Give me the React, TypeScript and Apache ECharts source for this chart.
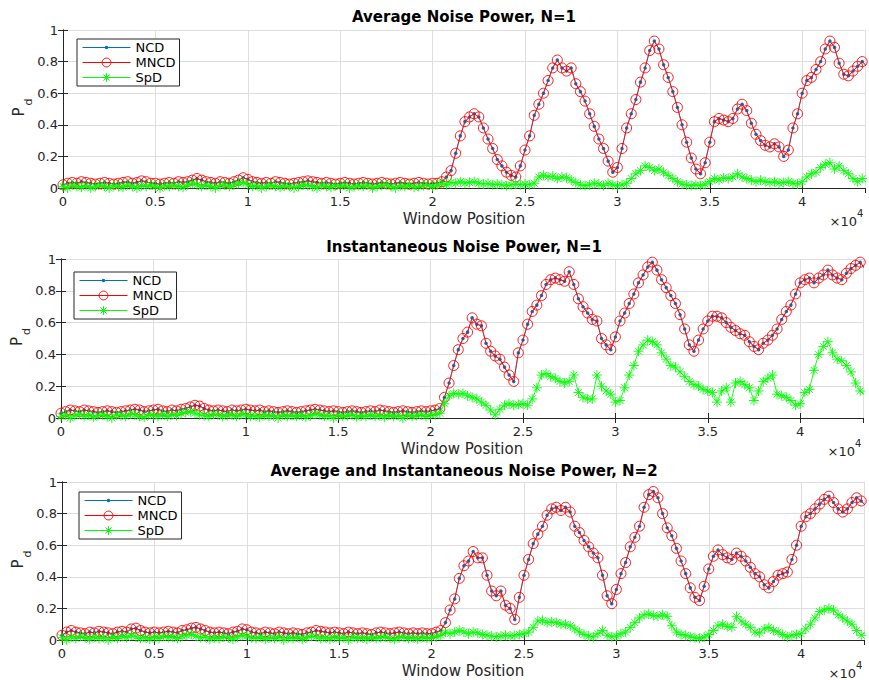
import React, { useEffect, useRef } from 'react';
import * as echarts from 'echarts';

// ---------- data ----------
const STEP = 250; // window-position spacing of the samples
const X_MAX = 43400;
const xTickLabels = ['0', '0.5', '1', '1.5', '2', '2.5', '3', '3.5', '4'];
const yTickLabels = ['0', '0.2', '0.4', '0.6', '0.8', '1'];
const titles = [
  'Average Noise Power, N=1',
  'Instantaneous Noise Power, N=1',
  'Average and Instantaneous Noise Power, N=2',
];
const seriesNames = ['NCD', 'MNCD', 'SpD'];

// Panel 1 (Average Noise Power, N=1): window 0..20000
const mncd1Quiet = [
  0.02, 0.03, 0.035, 0.03, 0.04, 0.035, 0.03, 0.025, 0.03, 0.035,
  0.03, 0.025, 0.03, 0.035, 0.04, 0.03, 0.035, 0.045, 0.04, 0.03,
  0.03, 0.025, 0.03, 0.035, 0.03, 0.04, 0.035, 0.04, 0.05, 0.06,
  0.05, 0.04, 0.035, 0.03, 0.04, 0.035, 0.03, 0.04, 0.05, 0.065,
  0.055, 0.04, 0.035, 0.03, 0.035, 0.03, 0.04, 0.035, 0.03, 0.025,
  0.03, 0.035, 0.04, 0.045, 0.04, 0.035, 0.03, 0.035, 0.03, 0.025,
  0.03, 0.035, 0.03, 0.025, 0.03, 0.035, 0.03, 0.025, 0.03, 0.035,
  0.03, 0.025, 0.03, 0.035, 0.03, 0.025, 0.03, 0.035, 0.03, 0.025,
  0.03,
];
// window 20250..43500
const mncd1Active = [
  0.03, 0.04, 0.07, 0.11, 0.22, 0.33, 0.42, 0.45, 0.47, 0.45,
  0.38, 0.31, 0.25, 0.18, 0.14, 0.10, 0.08, 0.07, 0.14, 0.24,
  0.33, 0.46, 0.53, 0.60, 0.68, 0.76, 0.81, 0.76, 0.74, 0.76,
  0.66, 0.61, 0.55, 0.47, 0.39, 0.31, 0.25, 0.17, 0.10, 0.13,
  0.25, 0.38, 0.47, 0.56, 0.67, 0.76, 0.87, 0.93, 0.88, 0.78,
  0.70, 0.61, 0.51, 0.40, 0.29, 0.19, 0.12, 0.09, 0.16, 0.29,
  0.42, 0.44, 0.43, 0.42, 0.44, 0.50, 0.53, 0.49, 0.41, 0.34,
  0.30, 0.27, 0.26, 0.28, 0.26, 0.20, 0.24, 0.38, 0.47, 0.60,
  0.68, 0.70, 0.75, 0.80, 0.88, 0.93, 0.89, 0.79, 0.72, 0.71,
  0.74, 0.77, 0.80, 0.77,
];
const spd1Quiet = [
  0.01, 0.0, 0.02, 0.01, 0.005, 0.015, 0.0, 0.01, 0.02, 0.01,
  0.0, 0.015, 0.01, 0.005, 0.02, 0.01, 0.0, 0.015, 0.01, 0.02,
  0.01, 0.0, 0.015, 0.01, 0.02, 0.01, 0.005, 0.02, 0.03, 0.02,
  0.01, 0.02, 0.01, 0.0, 0.015, 0.02, 0.01, 0.02, 0.03, 0.035,
  0.02, 0.01, 0.015, 0.0, 0.01, 0.02, 0.01, 0.005, 0.015, 0.01,
  0.0, 0.01, 0.02, 0.015, 0.01, 0.0, 0.02, 0.01, 0.005, 0.015,
  0.01, 0.02, 0.0, 0.01, 0.015, 0.01, 0.02, 0.0, 0.01, 0.015,
  0.02, 0.01, 0.0, 0.015, 0.01, 0.02, 0.005, 0.01, 0.015, 0.02,
  0.01,
];
const spd1Active = [
  0.02, 0.03, 0.02, 0.035, 0.03, 0.04, 0.03, 0.035, 0.04, 0.03,
  0.025, 0.03, 0.02, 0.025, 0.02, 0.015, 0.02, 0.025, 0.02, 0.025,
  0.02, 0.03, 0.07, 0.08, 0.07, 0.075, 0.06, 0.07, 0.065, 0.05,
  0.035, 0.02, 0.015, 0.02, 0.03, 0.025, 0.015, 0.03, 0.02, 0.015,
  0.02, 0.03, 0.06, 0.09, 0.11, 0.14, 0.13, 0.11, 0.12, 0.10,
  0.08, 0.06, 0.04, 0.025, 0.02, 0.015, 0.02, 0.015, 0.025, 0.04,
  0.06, 0.05, 0.065, 0.06, 0.07, 0.09, 0.07, 0.06, 0.05, 0.04,
  0.05, 0.04, 0.035, 0.04, 0.03, 0.035, 0.04, 0.03, 0.025, 0.04,
  0.07, 0.09, 0.10, 0.13, 0.15, 0.16, 0.12, 0.14, 0.11, 0.09,
  0.06, 0.04, 0.06, 0.03,
];

// Panel 2 (Instantaneous Noise Power, N=1)
const mncd2Quiet = [
  0.03, 0.04, 0.05, 0.045, 0.04, 0.05, 0.045, 0.04, 0.035, 0.04,
  0.045, 0.04, 0.035, 0.04, 0.045, 0.05, 0.055, 0.05, 0.04, 0.045,
  0.05, 0.055, 0.045, 0.04, 0.05, 0.045, 0.055, 0.06, 0.07, 0.08,
  0.075, 0.06, 0.05, 0.045, 0.05, 0.045, 0.04, 0.05, 0.045, 0.05,
  0.055, 0.05, 0.045, 0.05, 0.04, 0.045, 0.04, 0.035, 0.04, 0.045,
  0.04, 0.035, 0.04, 0.045, 0.05, 0.055, 0.05, 0.045, 0.04, 0.045,
  0.04, 0.035, 0.04, 0.045, 0.04, 0.035, 0.04, 0.045, 0.04, 0.05,
  0.045, 0.04, 0.035, 0.04, 0.045, 0.04, 0.035, 0.04, 0.045, 0.04,
  0.045,
];
const mncd2Active = [
  0.05, 0.06, 0.13, 0.22, 0.33, 0.43, 0.50, 0.54, 0.63, 0.59,
  0.58, 0.47, 0.42, 0.39, 0.37, 0.32, 0.27, 0.23, 0.41, 0.49,
  0.59, 0.67, 0.71, 0.77, 0.84, 0.87, 0.88, 0.87, 0.86, 0.92,
  0.84, 0.75, 0.70, 0.66, 0.62, 0.61, 0.50, 0.46, 0.43, 0.51,
  0.61, 0.66, 0.72, 0.78, 0.85, 0.90, 0.95, 0.98, 0.93, 0.87,
  0.82, 0.77, 0.72, 0.65, 0.56, 0.46, 0.42, 0.49, 0.56, 0.61,
  0.64, 0.64, 0.63, 0.60, 0.57, 0.55, 0.53, 0.52, 0.48, 0.45,
  0.43, 0.47, 0.49, 0.52, 0.56, 0.62, 0.67, 0.71, 0.78, 0.85,
  0.87, 0.88, 0.85, 0.88, 0.90, 0.93, 0.90, 0.88, 0.87, 0.91,
  0.94, 0.96, 0.98, 0.94,
];
const spd2Quiet = [
  0.01, 0.02, 0.0, 0.015, 0.025, 0.01, 0.02, 0.005, 0.015, 0.02,
  0.01, 0.0, 0.02, 0.015, 0.01, 0.025, 0.02, 0.01, 0.005, 0.02,
  0.015, 0.01, 0.025, 0.01, 0.02, 0.015, 0.03, 0.035, 0.04, 0.03,
  0.02, 0.015, 0.01, 0.025, 0.02, 0.01, 0.015, 0.02, 0.01, 0.025,
  0.02, 0.01, 0.015, 0.005, 0.02, 0.01, 0.015, 0.0, 0.02, 0.01,
  0.015, 0.01, 0.02, 0.005, 0.015, 0.025, 0.02, 0.01, 0.015, 0.0,
  0.02, 0.01, 0.015, 0.02, 0.005, 0.015, 0.01, 0.02, 0.01, 0.015,
  0.005, 0.02, 0.01, 0.015, 0.0, 0.02, 0.01, 0.015, 0.02, 0.01,
  0.02,
];
const spd2Active = [
  0.02, 0.03, 0.09, 0.14, 0.155, 0.15, 0.155, 0.14, 0.13, 0.12,
  0.10, 0.08, 0.05, 0.02, 0.055, 0.08, 0.09, 0.08, 0.085, 0.09,
  0.08, 0.12, 0.19, 0.27, 0.28, 0.26, 0.25, 0.23, 0.22, 0.23,
  0.27, 0.16, 0.13, 0.12, 0.12, 0.27, 0.20, 0.17, 0.15, 0.10,
  0.11, 0.19, 0.27, 0.33, 0.42, 0.46, 0.49, 0.48, 0.46, 0.41,
  0.37, 0.33, 0.32, 0.29, 0.26, 0.23, 0.21, 0.20, 0.18, 0.17,
  0.16, 0.10, 0.17, 0.19, 0.10, 0.22, 0.23, 0.21, 0.19, 0.11,
  0.17, 0.23, 0.25, 0.27, 0.15, 0.14, 0.13, 0.11, 0.08, 0.09,
  0.16, 0.18, 0.30, 0.40, 0.45, 0.48, 0.41, 0.37, 0.36, 0.33,
  0.29, 0.22, 0.17, 0.15,
];

// Panel 3 (Average and Instantaneous Noise Power, N=2)
const mncd3Quiet = [
  0.03, 0.05, 0.06, 0.05, 0.045, 0.04, 0.05, 0.045, 0.055, 0.05,
  0.045, 0.04, 0.05, 0.055, 0.05, 0.07, 0.075, 0.06, 0.05, 0.045,
  0.05, 0.045, 0.05, 0.055, 0.05, 0.045, 0.06, 0.065, 0.075, 0.08,
  0.07, 0.06, 0.05, 0.045, 0.05, 0.045, 0.04, 0.05, 0.055, 0.07,
  0.065, 0.05, 0.045, 0.04, 0.05, 0.045, 0.04, 0.05, 0.045, 0.04,
  0.045, 0.04, 0.035, 0.045, 0.05, 0.06, 0.055, 0.05, 0.045, 0.05,
  0.045, 0.04, 0.05, 0.045, 0.04, 0.045, 0.04, 0.035, 0.045, 0.05,
  0.045, 0.04, 0.045, 0.05, 0.045, 0.04, 0.045, 0.04, 0.045, 0.04,
  0.04,
];
const mncd3Active = [
  0.05, 0.06, 0.11, 0.19, 0.26, 0.39, 0.47, 0.50, 0.56, 0.52,
  0.52, 0.41, 0.31, 0.28, 0.31, 0.22, 0.20, 0.13, 0.27, 0.41,
  0.51, 0.61, 0.67, 0.72, 0.79, 0.83, 0.84, 0.82, 0.84, 0.81,
  0.72, 0.68, 0.63, 0.59, 0.55, 0.52, 0.41, 0.28, 0.23, 0.32,
  0.42, 0.49, 0.59, 0.65, 0.72, 0.84, 0.92, 0.94, 0.90, 0.80,
  0.71, 0.66, 0.58, 0.50, 0.42, 0.33, 0.27, 0.25, 0.34, 0.45,
  0.53, 0.57, 0.54, 0.52, 0.51, 0.55, 0.53, 0.50, 0.46, 0.42,
  0.40, 0.35, 0.33, 0.37, 0.41, 0.42, 0.43, 0.51, 0.60, 0.72,
  0.78, 0.80, 0.83, 0.86, 0.89, 0.91, 0.87, 0.83, 0.81, 0.83,
  0.87, 0.90, 0.88, 0.85,
];
const spd3Quiet = [
  0.015, 0.0, 0.02, 0.01, 0.025, 0.015, 0.005, 0.02, 0.01, 0.015,
  0.0, 0.02, 0.01, 0.025, 0.015, 0.03, 0.02, 0.01, 0.015, 0.005,
  0.02, 0.01, 0.025, 0.015, 0.02, 0.01, 0.025, 0.03, 0.035, 0.025,
  0.015, 0.02, 0.005, 0.015, 0.01, 0.02, 0.015, 0.005, 0.02, 0.03,
  0.025, 0.015, 0.01, 0.02, 0.005, 0.015, 0.01, 0.02, 0.0, 0.015,
  0.01, 0.02, 0.005, 0.015, 0.025, 0.02, 0.01, 0.015, 0.005, 0.02,
  0.01, 0.015, 0.0, 0.02, 0.01, 0.015, 0.005, 0.02, 0.01, 0.015,
  0.02, 0.01, 0.005, 0.015, 0.02, 0.01, 0.015, 0.005, 0.02, 0.01,
  0.015,
];
const spd3Active = [
  0.02, 0.03, 0.05, 0.04, 0.05, 0.06, 0.05, 0.04, 0.05, 0.045,
  0.035, 0.03, 0.025, 0.02, 0.025, 0.03, 0.025, 0.03, 0.035, 0.04,
  0.05, 0.08, 0.12, 0.125, 0.11, 0.115, 0.11, 0.10, 0.10, 0.09,
  0.07, 0.05, 0.035, 0.025, 0.02, 0.04, 0.06, 0.03, 0.02, 0.025,
  0.04, 0.05, 0.08, 0.11, 0.14, 0.16, 0.165, 0.155, 0.15, 0.16,
  0.15, 0.09, 0.05, 0.035, 0.03, 0.02, 0.015, 0.01, 0.02, 0.035,
  0.06, 0.09, 0.10, 0.085, 0.08, 0.15, 0.12, 0.10, 0.08, 0.05,
  0.045, 0.07, 0.08, 0.06, 0.05, 0.035, 0.02, 0.03, 0.035, 0.04,
  0.07, 0.10, 0.14, 0.18, 0.19, 0.20, 0.19, 0.16, 0.14, 0.12,
  0.10, 0.06, 0.03, 0.05,
];

const mncd1 = [...mncd1Quiet, ...mncd1Active];
const mncd2 = [...mncd2Quiet, ...mncd2Active];
const mncd3 = [...mncd3Quiet, ...mncd3Active];
// NCD coincides with MNCD in the plot
const ncd1 = mncd1;
const ncd2 = mncd2;
const ncd3 = mncd3;
const spd1 = [...spd1Quiet, ...spd1Active];
const spd2 = [...spd2Quiet, ...spd2Active];
const spd3 = [...spd3Quiet, ...spd3Active];

// ---------- styling ----------
const FONT = '"DejaVu Sans", "Liberation Sans", sans-serif';
const AXIS_COLOR = '#262626';
const GRID_COLOR = '#dedede';
const BLUE = '#0072BD';
const RED = '#ff0000';
const GREEN = '#00ff00';
const STAR = 'path://M5 0L5 10M0 5L10 5M1.5 1.5L8.5 8.5M8.5 1.5L1.5 8.5';
// legend icon for NCD: thin line with a small dot in the middle
const NCD_ICON = 'path://M0 4.6H48V5.4H0Z M24 3.2A1.8 1.8 0 1 1 24 6.8A1.8 1.8 0 1 1 24 3.2Z';

const grids = [
  { left: 63, top: 30, width: 802, height: 158 },
  { left: 61, top: 259, width: 802, height: 159 },
  { left: 62, top: 482, width: 802, height: 158 },
];
const legendPos = [
  { left: 77, top: 39 },
  { left: 74, top: 272 },
  { left: 79, top: 492 },
];
const titleY = [17, 247, 471];

const toPairs = (vals: number[]) => vals.map((v, i) => [i * STEP, v]);

function buildOption() {
  const panels = [
    { ncd: ncd1, mncd: mncd1, spd: spd1 },
    { ncd: ncd2, mncd: mncd2, spd: spd2 },
    { ncd: ncd3, mncd: mncd3, spd: spd3 },
  ];
  const xAxis: any[] = [];
  const yAxis: any[] = [];
  const series: any[] = [];
  const graphic: any[] = [];
  const legend: any[] = [];

  const centered = { align: 'center', verticalAlign: 'middle', textAlign: 'center', textVerticalAlign: 'middle' };

  grids.forEach((g, p) => {
    xAxis.push({
      type: 'value',
      gridIndex: p,
      min: 0,
      max: X_MAX,
      interval: 5000,
      name: 'Window Position',
      nameLocation: 'middle',
      nameGap: 23,
      nameTextStyle: { fontSize: 15, color: AXIS_COLOR, fontFamily: FONT },
      axisLine: { show: true, lineStyle: { color: AXIS_COLOR, width: 1 } },
      axisTick: { show: true, inside: true, length: 5, lineStyle: { color: AXIS_COLOR } },
      axisLabel: {
        color: AXIS_COLOR,
        fontSize: 13,
        fontFamily: FONT,
        margin: 7,
        showMaxLabel: false,
        formatter: (v: number) => (v % 5000 === 0 ? xTickLabels[v / 5000] ?? '' : ''),
      },
      splitLine: { show: true, lineStyle: { color: GRID_COLOR, width: 1 } },
    });
    xAxis.push({
      type: 'value',
      gridIndex: p,
      position: 'top',
      min: 0,
      max: X_MAX,
      interval: 5000,
      axisLine: { show: true, lineStyle: { color: AXIS_COLOR, width: 1 } },
      axisTick: { show: true, inside: true, length: 5, lineStyle: { color: AXIS_COLOR } },
      axisLabel: { show: false },
      splitLine: { show: false },
    });
    yAxis.push({
      type: 'value',
      gridIndex: p,
      min: 0,
      max: 1,
      interval: 0.2,
      axisLine: { show: true, lineStyle: { color: AXIS_COLOR, width: 1 } },
      axisTick: { show: true, inside: true, length: 5, lineStyle: { color: AXIS_COLOR } },
      axisLabel: {
        color: AXIS_COLOR,
        fontSize: 13,
        fontFamily: FONT,
        margin: 5,
        formatter: (v: number) => yTickLabels[Math.round(v / 0.2)] ?? '',
      },
      splitLine: { show: true, lineStyle: { color: GRID_COLOR, width: 1 } },
    });
    yAxis.push({
      type: 'value',
      gridIndex: p,
      position: 'right',
      min: 0,
      max: 1,
      interval: 0.2,
      axisLine: { show: true, lineStyle: { color: AXIS_COLOR, width: 1 } },
      axisTick: { show: true, inside: true, length: 5, lineStyle: { color: AXIS_COLOR } },
      axisLabel: { show: false },
      splitLine: { show: false },
    });

    const d = panels[p];
    const xi = 2 * p;
    series.push({
      name: 'NCD',
      type: 'line',
      xAxisIndex: xi,
      yAxisIndex: xi,
      data: toPairs(d.ncd),
      symbol: 'circle',
      symbolSize: 3.5,
      itemStyle: { color: BLUE },
      lineStyle: { color: BLUE, width: 0.8 },
      z: 2,
      silent: true,
    });
    series.push({
      name: 'MNCD',
      type: 'line',
      xAxisIndex: xi,
      yAxisIndex: xi,
      data: toPairs(d.mncd),
      symbol: 'circle',
      symbolSize: 10,
      itemStyle: { color: 'rgba(255,255,255,0)', borderColor: RED, borderWidth: 0.9 },
      lineStyle: { color: RED, width: 0.8 },
      z: 3,
      silent: true,
    });
    series.push({
      name: 'SpD',
      type: 'line',
      xAxisIndex: xi,
      yAxisIndex: xi,
      data: toPairs(d.spd),
      symbol: STAR,
      symbolSize: 10,
      itemStyle: { color: GREEN, borderColor: GREEN, borderWidth: 0.9 },
      lineStyle: { color: GREEN, width: 0.9 },
      z: 4,
      silent: true,
    });

    legend.push({
      orient: 'vertical',
      left: legendPos[p].left,
      top: legendPos[p].top,
      itemWidth: 48,
      itemHeight: 11,
      itemGap: 2,
      itemTextGap: 5,
      padding: [2, 4, 2, 5],
      borderColor: AXIS_COLOR,
      borderWidth: 1,
      borderRadius: 0,
      backgroundColor: '#ffffff',
      selectedMode: false,
      lineStyle: { width: 1 },
      itemStyle: { borderWidth: 1 },
      textStyle: { fontSize: 13, color: '#000', fontFamily: FONT },
      data: [{ name: seriesNames[0], icon: NCD_ICON }, seriesNames[1], seriesNames[2]],
    });

    const right = g.left + g.width;
    const bottom = g.top + g.height;
    const mid = g.top + g.height / 2;
    // title
    graphic.push({
      type: 'text',
      x: 464,
      y: titleY[p],
      style: { text: titles[p], font: `bold 15px ${FONT}`, fill: '#000', ...centered },
    });
    // y label P_d
    graphic.push({
      type: 'text',
      x: g.left - 44,
      y: mid + 3,
      rotation: Math.PI / 2,
      style: { text: 'P', font: `15px ${FONT}`, fill: AXIS_COLOR, ...centered },
    });
    graphic.push({
      type: 'text',
      x: g.left - 35,
      y: mid - 7,
      rotation: Math.PI / 2,
      style: { text: 'd', font: `11px ${FONT}`, fill: AXIS_COLOR, ...centered },
    });
    // x10^4 exponent
    graphic.push({
      type: 'text',
      x: right - 8,
      y: bottom + 33,
      style: {
        text: '×10',
        font: `13px ${FONT}`,
        fill: AXIS_COLOR,
        align: 'right',
        verticalAlign: 'middle',
        textAlign: 'right',
        textVerticalAlign: 'middle',
      },
    });
    graphic.push({
      type: 'text',
      x: right - 8,
      y: bottom + 25,
      style: {
        text: '4',
        font: `10px ${FONT}`,
        fill: AXIS_COLOR,
        align: 'left',
        verticalAlign: 'middle',
        textAlign: 'left',
        textVerticalAlign: 'middle',
      },
    });
  });

  return {
    animation: false,
    backgroundColor: '#ffffff',
    textStyle: { fontFamily: FONT },
    grid: grids.map((g) => ({ ...g, containLabel: false, show: false })),
    xAxis,
    yAxis,
    legend,
    series,
    graphic,
  };
}

export default function App() {
  const ref = useRef<HTMLDivElement>(null);
  useEffect(() => {
    if (!ref.current) return;
    const chart = echarts.init(ref.current, undefined, { renderer: 'svg' });
    chart.setOption(buildOption() as any);
    return () => chart.dispose();
  }, []);
  return (
    <div
      ref={ref}
      style={{ position: 'fixed', left: 0, top: 0, width: 869, height: 680, background: '#fff' }}
    />
  );
}
